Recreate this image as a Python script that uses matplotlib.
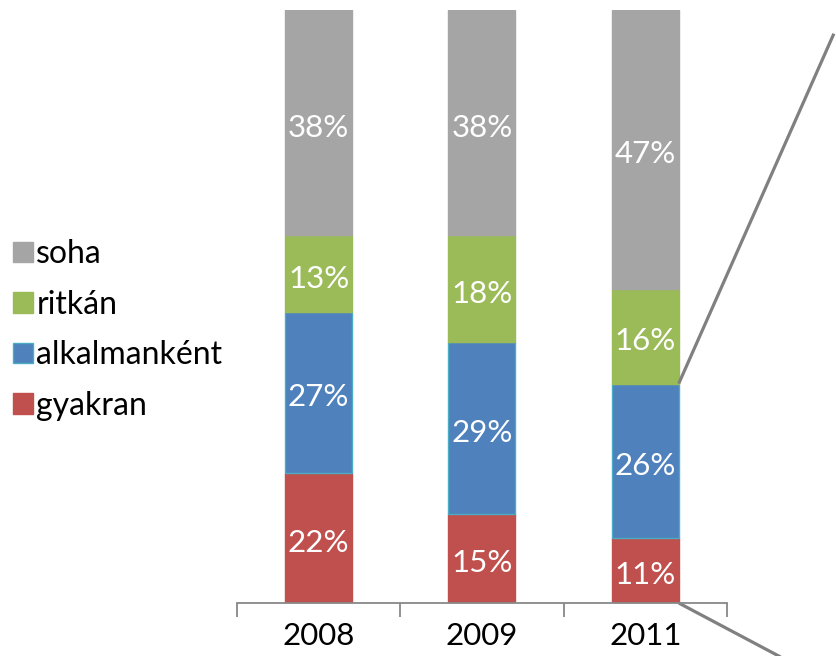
import numpy as np
from matplotlib import pyplot as plt
from matplotlib.patches import Patch

years = ["2008", "2009", "2011"]
series_names = ["gyakran", "alkalmanként", "ritkán", "soha"]
gyakran = [22, 15, 11]
alkalmankent = [27, 29, 26]
ritkan = [13, 18, 16]
soha = [38, 38, 47]

colors = {
    "gyakran": "#C0504D",
    "alkalmanként": "#4F81BD",
    "ritkán": "#9BBB59",
    "soha": "#A5A5A5",
}
edges = {
    "gyakran": "#C0504D",
    "alkalmanként": "#4BACC6",
    "ritkán": "#9BBB59",
    "soha": "#A5A5A5",
}

plt.rcParams["font.family"] = ["Lato", "DejaVu Sans"]

fig = plt.figure(figsize=(8.36, 6.56), dpi=100)
ax = fig.add_axes([0.2835, 0.0808, 0.586, 0.904])

x = np.arange(len(years))
bar_w = 0.41
bottom = np.zeros(len(years))
for name, vals in zip(series_names, [gyakran, alkalmankent, ritkan, soha]):
    vals = np.array(vals, dtype=float)
    ax.bar(x, vals, bar_w, bottom=bottom, color=colors[name], edgecolor=edges[name], linewidth=1)
    for xi, b, v in zip(x, bottom, vals):
        ax.annotate(f"{v:.0f}%", (xi, b + v / 2), xytext=(0, -3.5), textcoords="offset points",
                    ha="center", va="center", color="white", fontsize=22.5)
    bottom += vals

ax.set_xlim(-0.5, 2.5)
ax.set_ylim(0, 100)
for s in ["top", "right", "left"]:
    ax.spines[s].set_visible(False)
ax.spines["bottom"].set_color("#888888")
ax.spines["bottom"].set_linewidth(1.3)
ax.set_yticks([])
ax.set_xticks(x)
ax.set_xticklabels(years, fontsize=22.5)
ax.tick_params(axis="x", which="major", length=0, pad=14)
ax.set_xticks([-0.5, 0.5, 1.5, 2.5], minor=True)
ax.tick_params(axis="x", which="minor", length=10, width=1.3, color="#888888", direction="out")

# connector lines from the 2011 bar (bar-of-pie style)
x_edge = x[-1] + bar_w / 2
y_top = gyakran[-1] + alkalmankent[-1]
ax.plot([x_edge, x_edge + 0.95], [y_top, 96], color="#808080", lw=2.3,
        clip_on=False, solid_capstyle="butt")
ax.plot([x_edge, x_edge + 1.2], [0, -1.2 * 0.53 * 100 / 593 * 163.3], color="#808080", lw=2.3,
        clip_on=False, solid_capstyle="butt")

handles = [Patch(facecolor=colors[n], edgecolor=edges[n]) for n in reversed(series_names)]
fig.legend(handles, list(reversed(series_names)), loc="center left", bbox_to_anchor=(0.0, 0.497),
           frameon=False, fontsize=23, handlelength=0.62, handleheight=0.62, handletextpad=0.12,
           labelspacing=0.64, borderaxespad=0.0, borderpad=0.4)

fig.savefig("out.png", dpi=100)
